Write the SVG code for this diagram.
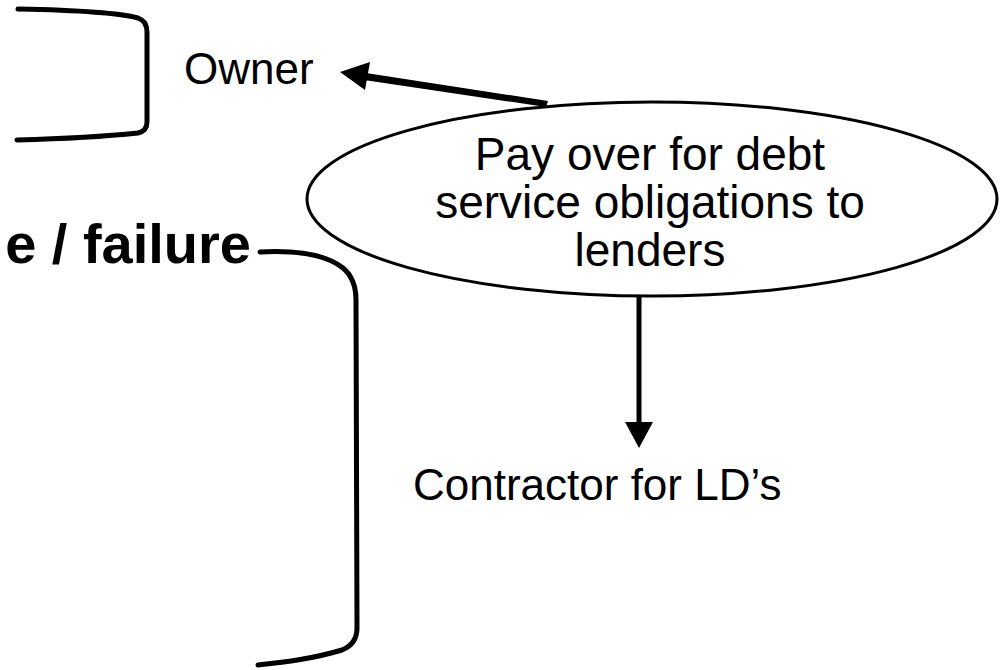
<svg xmlns="http://www.w3.org/2000/svg" width="1002" height="670" viewBox="0 0 1002 670">
<style>
.t{font-family:"Liberation Sans",Arial,sans-serif;fill:#000}
.br{fill:none;stroke:#000;stroke-width:5;stroke-linecap:round;stroke-linejoin:round}
.cn{fill:none;stroke:#000;stroke-width:5}
</style>
<rect width="1002" height="670" fill="#fff"/>
<g id="bracket-top"><path class="br" d="M18,9 C70,10 120,13 138,18 Q147,21 147,32 L147,122 Q147,131 138,133 C100,137 55,139 17,140"/></g>
<g id="label-failure"><text class="t" x="251" y="263" font-size="56" font-weight="bold" text-anchor="end">e / failure</text></g>
<g id="bracket-failure"><path class="br" d="M260,252 C300,250 328,256 343,268 Q356,279 356,300 L357,628 Q357,644 342,650 C312,659 285,662 258,665"/></g>
<g id="node-owner"><text class="t" x="184" y="84" font-size="44">Owner</text></g>
<g id="node-pay"><ellipse cx="652" cy="199" rx="345" ry="97" fill="#fff" stroke="#000" stroke-width="3"/>
<text class="t" font-size="46" text-anchor="middle"><tspan x="650" y="170">Pay over for debt</tspan><tspan x="650" y="218">service obligations to</tspan><tspan x="650" y="266">lenders</tspan></text></g>
<g id="node-contractor"><text class="t" x="413" y="500" font-size="44">Contractor for LD’s</text></g>
<g id="connectors">
<path d="M548,101 L366,73 L364,80 L546,107 Z"/>
<polygon points="340,72 370,62 365,90"/>
<line class="cn" x1="639" y1="296" x2="639" y2="425"/>
<polygon points="625,422 653,422 639,448"/>
</g>
</svg>
